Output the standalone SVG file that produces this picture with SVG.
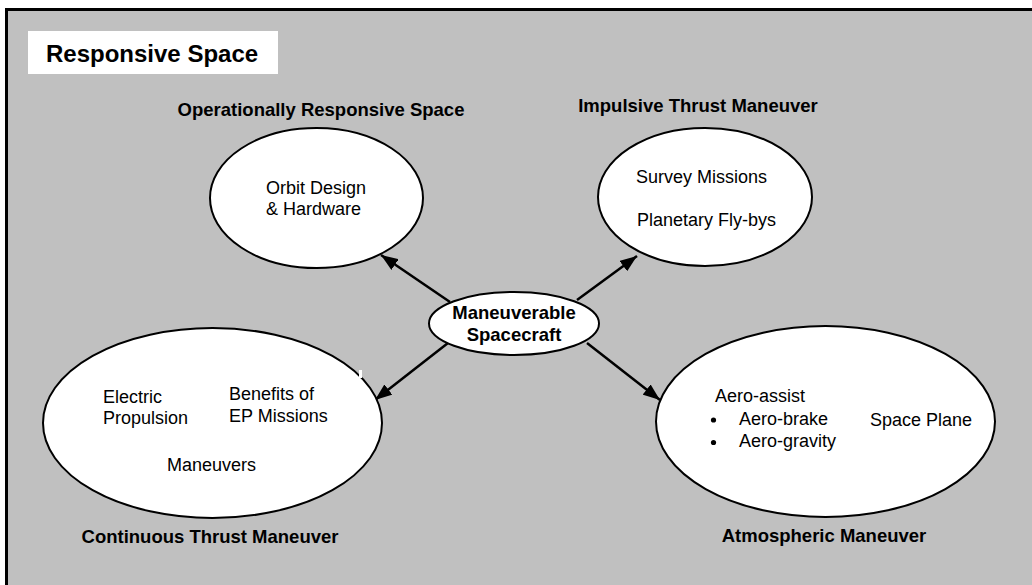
<svg xmlns="http://www.w3.org/2000/svg" width="1032" height="585" viewBox="0 0 1032 585">
  <style>
    .node { fill: #ffffff; stroke: #000000; stroke-width: 2; }
    .txt { font-family: "Liberation Sans", Arial, sans-serif; font-size: 18px; fill: #000000; }
    .bold { font-family: "Liberation Sans", Arial, sans-serif; font-size: 18.5px; font-weight: bold; fill: #000000; }
    .title { font-family: "Liberation Sans", Arial, sans-serif; font-size: 24px; font-weight: bold; fill: #000000; }
    .conn { stroke: #000000; stroke-width: 2.5; fill: none; marker-end: url(#head); }
  </style>
  <defs>
    <marker id="head" viewBox="0 0 17 13" refX="17" refY="6.5" markerWidth="17" markerHeight="13" markerUnits="userSpaceOnUse" orient="auto">
      <path d="M0,0 L17,6.5 L0,13 Z" fill="#000000"/>
    </marker>
  </defs>

  <!-- page and frame -->
  <rect x="0" y="0" width="1032" height="585" fill="#ffffff"/>
  <rect x="6.5" y="9.5" width="1040" height="590" fill="#c0c0c0" stroke="#000000" stroke-width="3"/>

  <!-- heading box -->
  <g id="heading">
    <rect x="28" y="31" width="250" height="43" fill="#ffffff"/>
    <text class="title" x="46" y="62">Responsive Space</text>
  </g>

  <!-- connectors -->
  <g id="connectors">
    <line class="conn" x1="450" y1="302" x2="381" y2="255"/>
    <line class="conn" x1="577" y1="300" x2="637" y2="256"/>
    <line class="conn" x1="448" y1="343" x2="375" y2="400"/>
    <line class="conn" x1="587" y1="343" x2="660" y2="400"/>
  </g>

  <!-- Operationally Responsive Space -->
  <g id="node-ors">
    <text class="bold" x="321" y="116" text-anchor="middle">Operationally Responsive Space</text>
    <ellipse class="node" cx="316.5" cy="198" rx="106.5" ry="70"/>
    <text class="txt" x="266" y="194">Orbit Design</text>
    <text class="txt" x="266" y="215">&amp; Hardware</text>
  </g>

  <!-- Impulsive Thrust Maneuver -->
  <g id="node-impulsive">
    <text class="bold" x="698" y="112" text-anchor="middle">Impulsive Thrust Maneuver</text>
    <ellipse class="node" cx="705" cy="197" rx="107" ry="69"/>
    <text class="txt" x="636" y="183">Survey Missions</text>
    <text class="txt" x="637" y="226">Planetary Fly-bys</text>
  </g>

  <!-- Maneuverable Spacecraft -->
  <g id="node-center">
    <ellipse class="node" cx="514" cy="323.5" rx="85" ry="31.5"/>
    <text class="bold" x="514" y="319" text-anchor="middle">Maneuverable</text>
    <text class="bold" x="514" y="341" text-anchor="middle">Spacecraft</text>
  </g>

  <!-- Continuous Thrust Maneuver -->
  <g id="node-continuous">
    <ellipse class="node" cx="212.5" cy="423" rx="169.5" ry="95"/>
    <rect x="359" y="370" width="3" height="8" fill="#ffffff"/>
    <text class="txt" x="103" y="403">Electric</text>
    <text class="txt" x="103" y="424">Propulsion</text>
    <text class="txt" x="229" y="400">Benefits of</text>
    <text class="txt" x="229" y="422">EP Missions</text>
    <text class="txt" x="167" y="471">Maneuvers</text>
    <text class="bold" x="210" y="543" text-anchor="middle">Continuous Thrust Maneuver</text>
  </g>

  <!-- Atmospheric Maneuver -->
  <g id="node-atmospheric">
    <ellipse class="node" cx="825.5" cy="421.5" rx="169.5" ry="95.5"/>
    <text class="txt" x="715" y="402">Aero-assist</text>
    <circle cx="713.5" cy="420" r="2.6" fill="#000000"/>
    <circle cx="713.5" cy="442.5" r="2.6" fill="#000000"/>
    <text class="txt" x="739" y="425">Aero-brake</text>
    <text class="txt" x="739" y="447">Aero-gravity</text>
    <text class="txt" x="870" y="426">Space Plane</text>
    <text class="bold" x="824" y="542" text-anchor="middle">Atmospheric Maneuver</text>
  </g>
</svg>
